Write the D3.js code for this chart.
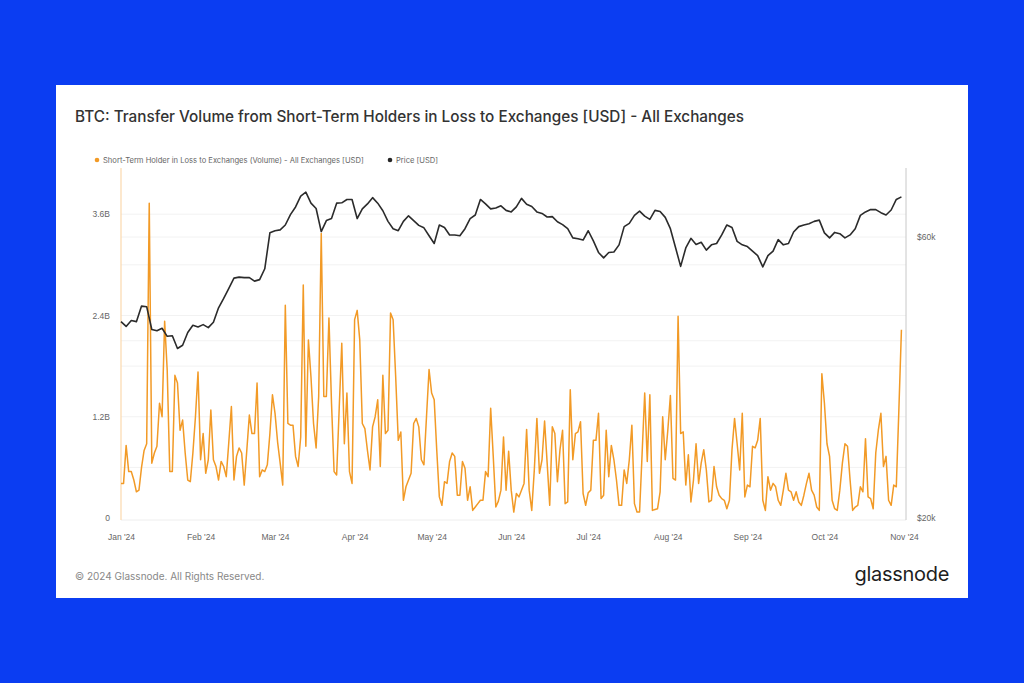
<!DOCTYPE html>
<html>
  <head>
    <meta charset="utf-8">
    <script type="text/javascript" src="https://cdn.jsdelivr.net/npm/d3@7"></script>
    <style type="text/css">
      body { margin: 0; background: #0b3df2; }
      svg { display: block; font-family: "Inter", "Noto Sans", sans-serif; }
      .axis path, .axis line { display: none; }
      .axis text { font-size: 8.5px; fill: #666; }
    </style>
  </head>
  <body>
    <script type="text/javascript">
      // first day of the daily series
      var startDate = new Date(2024, 0, 1);

      // transfer volume to exchanges, billions USD, one value per day (Jan 1 .. Oct 31)
      var volumeB = [
        0.41,0.41,0.86,0.55,0.55,0.45,0.31,0.33,0.6,0.8,
        0.88,3.73,0.65,0.77,0.85,1.36,1.2,2.33,1.75,0.55,
        0.55,1.69,1.6,1.04,1.16,0.77,0.45,0.43,0.77,1.2,
        1.73,0.69,1.0,0.53,0.69,1.28,0.69,0.61,0.45,0.67,
        0.61,0.49,0.9,1.32,0.45,0.73,0.83,0.77,0.39,0.8,
        1.22,1.0,1.0,1.6,0.49,0.57,0.55,0.63,1.0,1.46,
        1.24,0.9,0.65,0.39,2.52,1.12,1.1,1.1,0.73,0.61,
        0.96,2.76,0.85,2.11,1.67,1.12,0.83,1.44,3.37,1.44,
        1.44,2.37,1.36,0.55,0.51,1.3,2.07,0.88,1.48,0.55,
        0.41,2.35,2.46,2.11,1.12,1.06,0.8,0.57,1.08,1.2,
        1.4,0.61,1.69,1.0,1.04,2.43,2.35,1.67,0.92,1.02,
        0.21,0.37,0.45,0.53,1.12,1.18,1.08,0.69,0.63,1.2,
        1.76,1.48,1.4,0.8,0.25,0.15,0.43,0.41,0.67,0.77,
        0.73,0.27,0.27,0.67,0.59,0.21,0.37,0.09,0.13,0.17,
        0.21,0.21,0.55,0.49,1.3,0.73,0.13,0.2,0.33,0.96,
        0.33,0.79,0.33,0.07,0.29,0.25,0.33,0.41,1.05,0.33,
        0.09,0.57,1.18,0.53,0.69,1.15,0.65,0.15,1.08,1.0,
        0.43,0.81,1.04,0.17,0.19,1.52,0.69,1.0,1.02,1.14,
        0.29,0.15,0.3,0.33,0.92,0.92,1.24,0.23,0.27,1.04,
        0.49,0.86,0.69,0.45,0.15,0.15,0.57,0.41,0.69,1.1,
        0.17,0.07,0.07,0.77,1.48,0.67,1.46,0.09,0.1,0.11,
        0.31,1.2,0.69,1.04,1.45,0.47,0.45,2.39,1.0,1.02,
        0.39,0.75,0.19,0.45,0.88,0.41,0.65,0.81,0.57,0.19,
        0.21,0.61,0.37,0.27,0.23,0.21,0.11,0.21,0.81,1.18,
        0.88,0.57,1.24,0.25,0.39,0.37,0.85,0.83,0.92,1.18,
        0.21,0.09,
        0.49,0.33,0.41,0.37,0.21,0.15,0.33,0.53,0.33,0.31,
        0.21,0.31,0.19,0.15,0.27,0.41,0.53,0.33,0.27,0.13,
        0.09,1.71,1.36,0.88,0.73,0.21,0.11,0.09,0.33,0.65,
        0.88,0.85,0.45,0.09,0.13,0.15,0.37,0.31,0.94,0.25,
        0.23,0.11,0.77,1.04,1.24,0.61,0.73,0.21,0.15,0.39,
        0.37,1.28,2.23
      ];

      // BTC price, thousands USD, one value every 2 days (Jan 1 .. Oct 31)
      var priceK = [
        43.1,42.3,43.3,43.1,45.8,45.7,41.8,41.6,42.0,40.7,
        40.8,38.8,39.3,41.3,42.5,42.2,42.6,42.1,43.0,45.5,
        47.2,49.1,51.1,51.3,51.2,51.2,50.5,50.8,53.0,61.0,
        61.5,61.7,62.9,65.5,67.5,70.4,71.5,68.5,67.1,61.3,
        64.0,64.5,68.5,68.6,69.5,69.5,64.5,67.0,68.3,70.0,
        68.5,66.5,63.8,62.0,61.5,63.8,65.2,64.0,62.8,62.2,
        60.3,58.5,62.9,62.3,60.5,60.5,60.3,62.0,64.5,65.4,
        69.5,68.3,67.0,67.2,67.8,66.6,66.2,67.5,69.8,68.2,
        67.6,66.2,65.8,64.9,65.0,63.7,63.0,62.0,59.8,59.6,
        59.3,61.5,59.1,56.5,55.3,56.5,56.6,58.2,62.5,63.3,
        65.3,66.4,65.1,64.3,66.6,66.3,64.8,62.0,57.6,53.5,
        57.5,59.7,58.3,58.8,57.0,58.2,58.5,60.5,62.9,62.3,
        59.0,58.2,57.8,56.8,55.8,53.4,55.8,56.8,59.4,58.2,
        58.5,61.2,62.5,62.9,63.2,63.8,64.1,61.0,59.8,61.1,
        60.8,59.8,60.5,62.0,65.3,66.2,66.8,66.8,66.0,65.4,
        66.7,69.5,70.2
      ];

      // tick values
      var volumeTicks = [0, 1.2, 2.4, 3.6];
      var volumeGrid = [0.6, 1.2, 1.8, 2.4, 3.0, 3.6];
      var priceTicks = [20, 60];
      var priceGrid = [40, 60];

      var volumeData = volumeB.map(function(v, i) {
        return { date: d3.timeDay.offset(startDate, i), value: v };
      });
      var priceData = priceK.map(function(v, i) {
        return { date: d3.timeDay.offset(startDate, i * 2), value: v };
      });

      var svg = d3.select("body").append("svg")
        .attr("width", 1024)
        .attr("height", 683);

      // white card
      svg.append("rect")
        .attr("x", 56).attr("y", 85)
        .attr("width", 912).attr("height", 513)
        .attr("fill", "#ffffff");

      var plotTop = 168, plotBottom = 518, plotLeft = 121, plotRight = 906;

      var xScale = d3.scaleTime()
        .domain([new Date(2024, 0, 1), new Date(2024, 10, 1)])
        .range([plotLeft, 904]);

      var yVol = d3.scaleLinear()
        .domain([0, 4.147])
        .range([plotBottom, plotTop]);

      var yPrice = d3.scaleLog()
        .domain([20, 78.6])
        .range([plotBottom, plotTop]);

      // grid lines
      svg.append("g").selectAll("line")
        .data(volumeGrid)
        .enter().append("line")
        .attr("x1", plotLeft).attr("x2", plotRight)
        .attr("y1", function(d) { return yVol(d); })
        .attr("y2", function(d) { return yVol(d); })
        .attr("stroke", "#f2f2f2");

      svg.append("g").selectAll("line")
        .data(priceGrid)
        .enter().append("line")
        .attr("x1", plotLeft).attr("x2", plotRight)
        .attr("y1", function(d) { return yPrice(d); })
        .attr("y2", function(d) { return yPrice(d); })
        .attr("stroke", "#f2f2f2");

      // baseline and side axis lines
      svg.append("line")
        .attr("x1", plotLeft).attr("x2", plotRight)
        .attr("y1", plotBottom + 2).attr("y2", plotBottom + 2)
        .attr("stroke", "#eeeeee");
      svg.append("line")
        .attr("x1", plotLeft).attr("x2", plotLeft)
        .attr("y1", plotTop).attr("y2", plotBottom + 2)
        .attr("stroke", "#fbd9ad").attr("stroke-width", 1.2);
      svg.append("line")
        .attr("x1", plotRight).attr("x2", plotRight)
        .attr("y1", plotTop).attr("y2", plotBottom + 2)
        .attr("stroke", "#c8c8c8").attr("stroke-width", 1);

      // volume line
      var volLine = d3.line()
        .x(function(d) { return xScale(d.date); })
        .y(function(d) { return yVol(d.value); });

      svg.append("path")
        .datum(volumeData)
        .attr("d", volLine)
        .attr("fill", "none")
        .attr("stroke", "#f29a26")
        .attr("stroke-width", 1.5)
        .attr("stroke-linejoin", "round");

      // price line
      var priceLine = d3.line()
        .x(function(d) { return xScale(d.date); })
        .y(function(d) { return yPrice(d.value); });

      svg.append("path")
        .datum(priceData)
        .attr("d", priceLine)
        .attr("fill", "none")
        .attr("stroke", "#2b2b2b")
        .attr("stroke-width", 1.6)
        .attr("stroke-linejoin", "round");

      // left axis
      svg.append("g")
        .attr("class", "axis")
        .attr("transform", "translate(110,0)")
        .call(d3.axisLeft(yVol).tickValues(volumeTicks).tickSize(0).tickPadding(0)
          .tickFormat(function(d) { return d === 0 ? "0" : d3.format(".1f")(d) + "B"; }));

      // right axis
      svg.append("g")
        .attr("class", "axis")
        .attr("transform", "translate(917,0)")
        .call(d3.axisRight(yPrice).tickValues(priceTicks).tickSize(0).tickPadding(0)
          .tickFormat(function(d) { return "$" + d + "k"; }));

      // bottom axis
      svg.append("g")
        .attr("class", "axis")
        .attr("transform", "translate(0,534)")
        .call(d3.axisBottom(xScale).ticks(d3.timeMonth.every(1)).tickSize(0).tickPadding(0)
          .tickFormat(d3.timeFormat("%b '%y")));

      // title
      svg.append("text")
        .attr("x", 75).attr("y", 122)
        .attr("fill", "#333")
        .style("font-size", "15.3px")
        .style("font-weight", "500")
        .text("BTC: Transfer Volume from Short-Term Holders in Loss to Exchanges [USD] - All Exchanges");

      // legend
      var legend = [
        { label: "Short-Term Holder in Loss to Exchanges (Volume) - All Exchanges [USD]", color: "#f29a26", x: 97 },
        { label: "Price [USD]", color: "#262626", x: 390 }
      ];
      var lg = svg.append("g").selectAll("g")
        .data(legend)
        .enter().append("g");
      lg.append("circle")
        .attr("cx", function(d) { return d.x; })
        .attr("cy", 160)
        .attr("r", 2.3)
        .attr("fill", function(d) { return d.color; });
      lg.append("text")
        .attr("x", function(d) { return d.x + 6; })
        .attr("y", 162.7)
        .attr("fill", "#666")
        .style("font-size", "7.6px")
        .text(function(d) { return d.label; });

      // footer
      svg.append("text")
        .attr("x", 75).attr("y", 580)
        .attr("fill", "#888")
        .style("font-size", "10px")
        .text("\u00a9 2024 Glassnode. All Rights Reserved.");

      svg.append("text")
        .attr("x", 949).attr("y", 581)
        .attr("text-anchor", "end")
        .attr("fill", "#1e1e1e")
        .style("font-size", "20px")
        .style("font-weight", "400")
        .style("letter-spacing", "-0.3px")
        .text("glassnode");
    </script>
  </body>
</html>
